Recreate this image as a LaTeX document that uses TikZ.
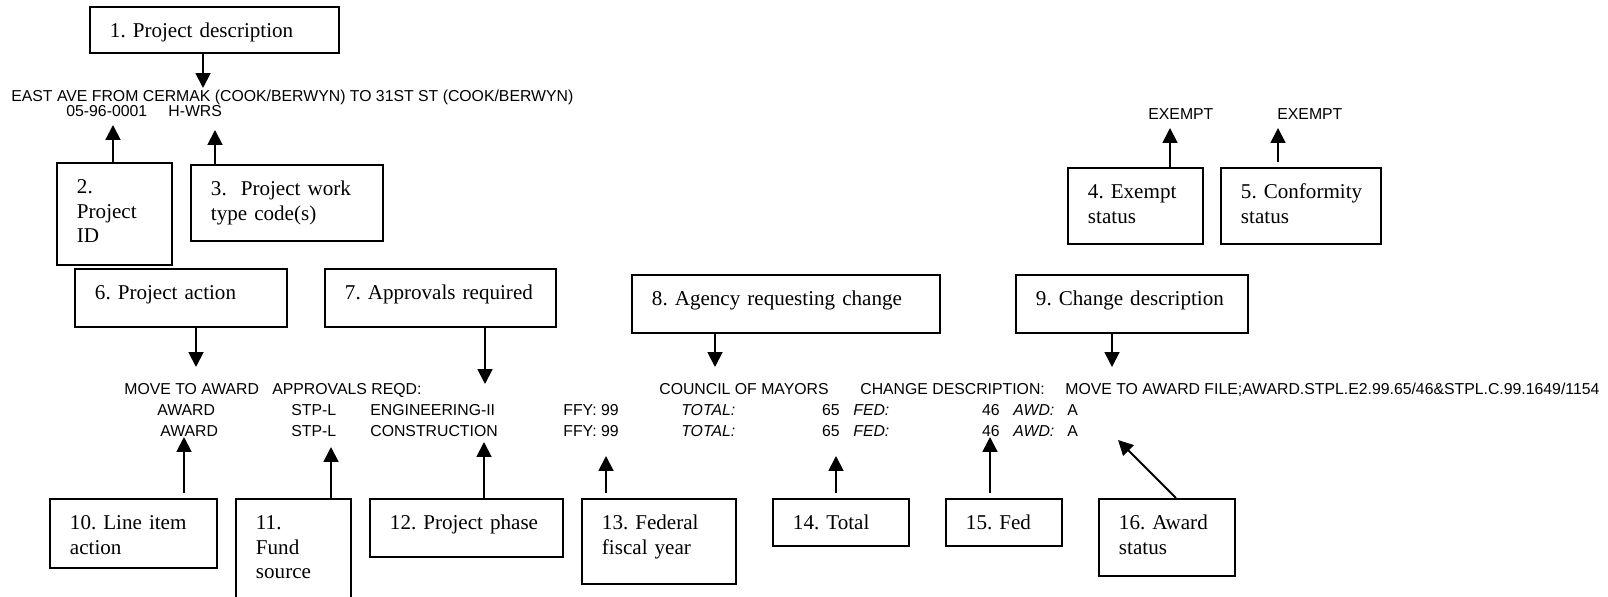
\documentclass[tikz,border=0pt]{standalone}
\usepackage{fontspec}
\setmainfont{Liberation Serif}
\newfontfamily\sansfont{Liberation Sans}
\usetikzlibrary{arrows.meta}
\newcommand{\pxl}{0.02cm}
\frenchspacing
\hyphenpenalty=10000
\tikzset{
  >={Triangle[length=8.5pt,width=8.5pt]},
  rect/.style={draw,line width=1.1pt,shape=rectangle,anchor=north west,align=left,inner xsep=20*\pxl,inner ysep=0pt,text height=30.5*\pxl,font=\fontsize{12}{14}\selectfont},
  boxsize/.style 2 args={text width=(#1-40)*\pxl,text depth=(#2-30.5)*\pxl},
  txt/.style={anchor=base west,inner sep=0pt,font=\sansfont\fontsize{9}{11}\selectfont},
  num/.style={txt,anchor=base east},
  line/.style={draw,->,line width=1.1pt},
  gap/.style={shorten <=2.8pt},
}

\begin{document}
\begin{tikzpicture}[x=\pxl,y=-\pxl]
  \useasboundingbox (0,0) rectangle (1608,597);
  \node (b1) [rect,boxsize={249}{46}] at (89,6) {1. Project description};
  \node (b2) [rect,boxsize={115}{102}] at (56,162) {2.\\Project\\ID};
  \node (b3) [rect,boxsize={192}{76}] at (190,164) {3.~~Project work\\type code(s)};
  \node (b4) [rect,boxsize={135}{76}] at (1067,167) {4.~Exempt\\status};
  \node (b5) [rect,boxsize={160}{76}] at (1220,167) {5.~Conformity\\status};
  \node (b6) [rect,boxsize={212}{58}] at (74,268) {6. Project action};
  \node (b7) [rect,boxsize={231}{58}] at (324,268) {7.~Approvals~required};
  \node (b8) [rect,boxsize={308}{58}] at (631,274) {8. Agency requesting change};
  \node (b9) [rect,boxsize={232}{58}] at (1015,274) {9. Change description};
  \node (b10) [rect,boxsize={167}{69}] at (49,498) {10. Line item\\action};
  \node (b11) [rect,boxsize={115}{99}] at (235,498) {11.\\Fund\\source};
  \node (b12) [rect,boxsize={193}{58}] at (369,498) {12. Project phase};
  \node (b13) [rect,boxsize={154}{85}] at (581,498) {13. Federal\\fiscal year};
  \node (b14) [rect,boxsize={136}{47}] at (772,498) {14. Total};
  \node (b15) [rect,boxsize={116}{47}] at (945,498) {15. Fed};
  \node (b16) [rect,boxsize={136}{77}] at (1098,498) {16. Award\\status};

  \node (desc) [txt] at (11,102) {EAST AVE FROM CERMAK (COOK/BERWYN) TO 31ST ST (COOK/BERWYN)};
  \node (pid) [txt] at (66,117) {05-96-0001};
  \node (wtype) [txt] at (168,117) {H-WRS};
  \node (exempt) [txt] at (1148,120) {EXEMPT};
  \node (conform) [txt] at (1277,120) {EXEMPT};

  \node (action) [txt] at (124,395) {MOVE TO AWARD};
  \node (approvals) [txt] at (272,395) {APPROVALS REQD:};
  \node (agency) [txt] at (659,395) {COUNCIL OF MAYORS};
  \node (changehd) [txt] at (860,395) {CHANGE DESCRIPTION:};
  \node (change) [txt] at (1065,395) {MOVE TO AWARD FILE;AWARD.STPL.E2.99.65/46\&STPL.C.99.1649/1154};

  \node (lia) [txt] at (157,416) {AWARD};
  \node (fsa) [txt] at (291,416) {STP-L};
  \node (pha) [txt] at (370,416) {ENGINEERING-II};
  \node (ffya) [txt] at (563,416) {FFY: 99};
  \node (tota) [txt] at (681,416) {\itshape TOTAL:};
  \node (totva) [num] at (840,416) {65};
  \node (feda) [txt] at (853,416) {\itshape FED:};
  \node (fedva) [num] at (1000,416) {46};
  \node (awda) [txt] at (1013,416) {\itshape AWD:};
  \node (awdva) [txt] at (1067,416) {A};

  \node (lib) [txt] at (160,437) {AWARD};
  \node (fsb) [txt] at (291,437) {STP-L};
  \node (phb) [txt] at (370,437) {CONSTRUCTION};
  \node (ffyb) [txt] at (563,437) {FFY: 99};
  \node (totb) [txt] at (681,437) {\itshape TOTAL:};
  \node (totvb) [num] at (840,437) {65};
  \node (fedb) [txt] at (853,437) {\itshape FED:};
  \node (fedvb) [num] at (1000,437) {46};
  \node (awdb) [txt] at (1013,437) {\itshape AWD:};
  \node (awdvb) [txt] at (1067,437) {A};

  \coordinate (p1) at (203,88);
  \coordinate (p2) at (113,125);
  \coordinate (p3) at (215,130);
  \coordinate (p4) at (1170,128);
  \coordinate (p5) at (1278,128);
  \coordinate (p6) at (196,367);
  \coordinate (p7) at (485,384);
  \coordinate (p8) at (715,367);
  \coordinate (p9) at (1112,367);
  \coordinate (p10) at (184,437);
  \coordinate (p11) at (331,447);
  \coordinate (p12) at (484,442);
  \coordinate (p13) at (606,456);
  \coordinate (p14) at (836,456);
  \coordinate (p15) at (990,437);
  \coordinate (p16) at (1118,440);

  \path [line] (b1.south -| p1) -- (p1);
  \path [line] (b2.north -| p2) -- (p2);
  \path [line] (b3.north -| p3) -- (p3);
  \path [line] (b4.north -| p4) -- (p4);
  \path [line,gap] (b5.north -| p5) -- (p5);
  \path [line] (b6.south -| p6) -- (p6);
  \path [line] (b7.south -| p7) -- (p7);
  \path [line] (b8.south -| p8) -- (p8);
  \path [line] (b9.south -| p9) -- (p9);
  \path [line,gap] (b10.north -| p10) -- (p10);
  \path [line] (b11.north -| p11) -- (p11);
  \path [line] (b12.north -| p12) -- (p12);
  \path [line,gap] (b13.north -| p13) -- (p13);
  \path [line,gap] (b14.north -| p14) -- (p14);
  \path [line,gap] (b15.north -| p15) -- (p15);
  \path [line] ([xshift=0.18cm]b16.north) -- (p16);
\end{tikzpicture}
\end{document}
